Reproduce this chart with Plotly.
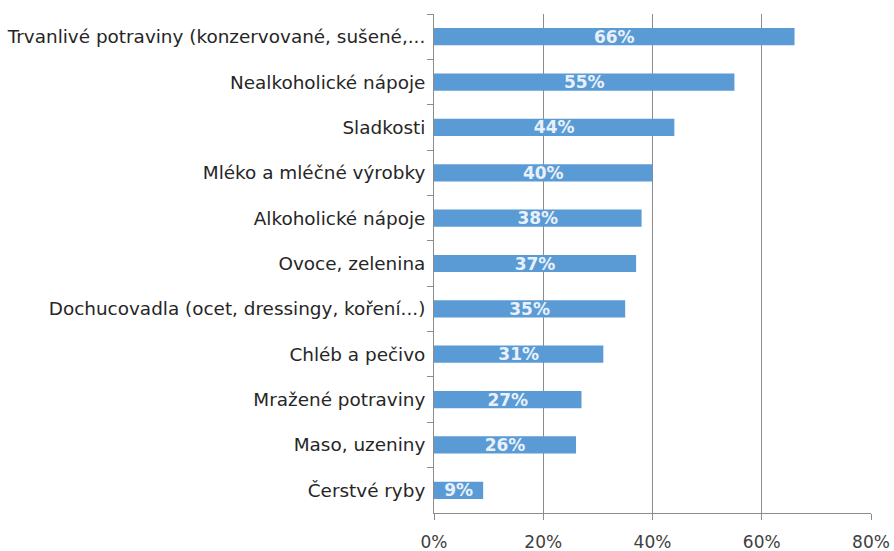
import plotly.graph_objects as go

categories = [
    "Trvanlivé potraviny (konzervované, sušené,...",
    "Nealkoholické nápoje",
    "Sladkosti",
    "Mléko a mléčné výrobky",
    "Alkoholické nápoje",
    "Ovoce, zelenina",
    "Dochucovadla (ocet, dressingy, koření...)",
    "Chléb a pečivo",
    "Mražené potraviny",
    "Maso, uzeniny",
    "Čerstvé ryby",
]
values = [0.66, 0.55, 0.44, 0.40, 0.38, 0.37, 0.35, 0.31, 0.27, 0.26, 0.09]
x_ticks = [0, 0.2, 0.4, 0.6, 0.8]
x_tick_labels = ["0%", "20%", "40%", "60%", "80%"]

fig = go.Figure(
    go.Bar(
        x=values,
        y=categories,
        orientation="h",
        marker=dict(color="#5B9BD5", line=dict(width=0)),
        width=0.38,
        text=[f"{round(v*100)}%" for v in values],
        textposition="inside",
        insidetextanchor="middle",
        textfont=dict(family="DejaVu Sans", size=17, color="#E8F1FA", weight="bold"),
        cliponaxis=False,
    )
)

grid = "#8C8C8C"
fig.update_layout(
    width=894,
    height=551,
    margin=dict(l=434, r=23, t=14, b=38),
    paper_bgcolor="white",
    plot_bgcolor="white",
    showlegend=False,
    uniformtext=dict(mode="show", minsize=10),
    font=dict(family="DejaVu Sans", color="#404040"),
)
fig.update_xaxes(
    range=[0, 0.8],
    tickvals=x_ticks,
    ticktext=x_tick_labels,
    showgrid=True,
    gridcolor=grid,
    gridwidth=1,
    zeroline=False,
    showline=True,
    linecolor=grid,
    ticks="outside",
    ticklen=6,
    tickcolor=grid,
    tickfont=dict(size=17, color="#404040"),
    ticklabelstandoff=8,
    automargin=False,
    fixedrange=True,
)
fig.update_yaxes(
    autorange="reversed",
    showline=True,
    linecolor=grid,
    ticks="outside",
    tickson="boundaries",
    ticklen=6,
    tickcolor=grid,
    tickfont=dict(size=18.4, color="#262626"),
    ticklabelstandoff=4,
    automargin=False,
    showgrid=False,
)

fig.write_html("out.html")
